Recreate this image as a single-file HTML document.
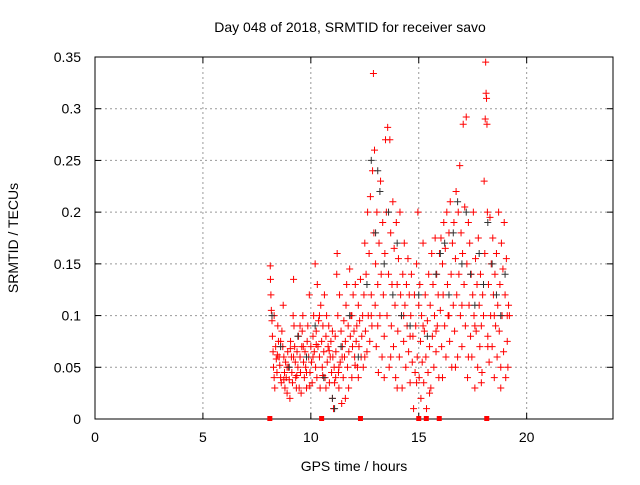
<!DOCTYPE html>
<html><head><meta charset="utf-8"><style>
body{margin:0;background:#fff;}
svg text{font-family:"Liberation Sans",sans-serif;font-size:14px;fill:#000;}
</style></head><body>
<svg id="chart" width="640" height="480" xmlns="http://www.w3.org/2000/svg">
<rect width="640" height="480" fill="#fff"/>
<g id="grid"></g><g id="axes"></g><g id="pts"></g>
<text x="350" y="32" text-anchor="middle">Day 048 of 2018, SRMTID for receiver savo</text>
<text x="354" y="471" text-anchor="middle">GPS time / hours</text>
<text transform="translate(18,238) rotate(-90)" text-anchor="middle">SRMTID / TECUs</text>
</svg>
<script>
const xTicks=[0,5,10,15,20];
const yTicks=[0,0.05,0.1,0.15,0.2,0.25,0.3,0.35];
const yLabels=["0","0.05","0.1","0.15","0.2","0.25","0.3","0.35"];
// [hour, value] pairs
const redSeg1=[[8.12,0.148],[8.13,0.135],[8.15,0.12],[8.17,0.105],[8.2,0.095],[8.22,0.08],[8.25,0.065],[8.27,0.05],[8.3,0.04],[8.33,0.03],[8.37,0.07],[8.4,0.058],[8.43,0.045],[8.47,0.09],[8.5,0.075],[8.53,0.06],[8.56,0.052],[8.6,0.04],[8.63,0.035],[8.66,0.085],[8.7,0.07],[8.72,0.11],[8.75,0.06],[8.78,0.045],[8.8,0.03],[8.83,0.055],[8.86,0.04],[8.9,0.025],[8.93,0.065],[8.96,0.05],[9.0,0.038],[9.03,0.02],[9.06,0.075],[9.1,0.06],[9.12,0.045],[9.15,0.035],[9.18,0.1],[9.2,0.135],[9.22,0.09],[9.25,0.07],[9.28,0.055],[9.3,0.04],[9.33,0.03],[9.36,0.065],[9.4,0.05],[9.43,0.08],[9.46,0.03],[9.5,0.06],[9.52,0.045],[9.55,0.025],[9.58,0.07],[9.6,0.085],[9.63,0.1],[9.66,0.055],[9.7,0.04],[9.73,0.065],[9.76,0.05],[9.8,0.03],[9.83,0.075],[9.86,0.09],[9.9,0.06],[9.93,0.12],[9.96,0.045],[10.0,0.07],[10.03,0.055],[10.06,0.035],[10.1,0.08],[10.13,0.1],[10.16,0.065],[10.2,0.15],[10.22,0.05],[10.25,0.085],[10.28,0.04],[10.3,0.13],[10.33,0.07],[10.36,0.095],[10.4,0.06],[10.43,0.03],[10.46,0.11],[10.5,0.075],[10.53,0.05],[10.56,0.09],[10.6,0.065],[10.63,0.12],[10.66,0.04],[10.7,0.08],[10.73,0.1],[10.76,0.055],[10.8,0.07],[10.83,0.09],[10.86,0.035],[10.9,0.06],[10.93,0.075],[10.96,0.045],[11.0,0.02],[11.02,0.06],[11.05,0.01],[11.08,0.05],[11.1,0.035],[11.13,0.08],[11.16,0.065],[11.2,0.14],[11.22,0.16],[11.25,0.1],[11.28,0.045],[11.3,0.03],[11.33,0.12],[11.36,0.055],[11.4,0.085],[11.43,0.015],[11.46,0.07],[11.5,0.04],[11.53,0.095],[11.56,0.06],[11.6,0.075],[11.63,0.11],[11.66,0.13],[11.7,0.05],[11.73,0.09],[11.76,0.065],[11.8,0.145],[11.83,0.08],[11.86,0.1],[11.9,0.04],[11.93,0.07],[11.96,0.12],[12.0,0.085],[12.03,0.06],[12.06,0.13],[12.1,0.075],[12.13,0.09],[12.16,0.05],[12.2,0.11],[12.23,0.07],[12.26,0.095],[12.3,0.135],[12.33,0.06],[12.36,0.08]];
const redSeg2=[[12.4,0.1],[12.43,0.05],[12.46,0.12],[12.5,0.17],[12.53,0.085],[12.56,0.14],[12.6,0.065],[12.63,0.2],[12.66,0.1],[12.7,0.16],[12.73,0.075],[12.76,0.215],[12.8,0.12],[12.83,0.09],[12.86,0.24],[12.9,0.334],[12.92,0.18],[12.95,0.26],[12.98,0.11],[13.0,0.15],[13.03,0.07],[13.06,0.2],[13.1,0.13],[13.13,0.045],[13.16,0.17],[13.2,0.1],[13.23,0.23],[13.26,0.14],[13.3,0.06],[13.33,0.19],[13.36,0.12],[13.4,0.08],[13.43,0.16],[13.46,0.27],[13.5,0.2],[13.53,0.1],[13.56,0.282],[13.6,0.14],[13.63,0.05],[13.66,0.27],[13.7,0.18],[13.73,0.09],[13.76,0.13],[13.8,0.21],[13.83,0.07],[13.86,0.165],[13.9,0.11],[13.93,0.04],[13.96,0.19],[14.0,0.13],[14.03,0.085],[14.06,0.155],[14.1,0.06],[14.13,0.2],[14.16,0.12],[14.2,0.1],[14.23,0.03],[14.26,0.14],[14.3,0.075],[14.33,0.17],[14.36,0.11],[14.4,0.05],[14.43,0.13],[14.46,0.09],[14.5,0.155],[14.53,0.065],[14.56,0.12],[14.6,0.035],[14.63,0.1],[14.66,0.14],[14.7,0.055],[14.73,0.08],[14.76,0.01],[14.8,0.12],[14.83,0.045],[14.86,0.09],[14.9,0.15],[14.93,0.06],[14.96,0.2],[15.0,0.11],[15.02,0.04],[15.05,0.13],[15.08,0.075],[15.1,0.02],[15.13,0.1],[15.16,0.055],[15.2,0.17],[15.23,0.035],[15.26,0.085],[15.3,0.12],[15.33,0.06],[15.36,0.01],[15.4,0.095],[15.43,0.045],[15.46,0.14],[15.5,0.07],[15.53,0.11],[15.56,0.03],[15.6,0.16],[15.63,0.08],[15.66,0.13],[15.7,0.05],[15.73,0.1],[15.76,0.175],[15.8,0.065],[15.83,0.14],[15.86,0.09],[15.9,0.12],[15.93,0.04],[15.96,0.16],[16.0,0.105],[16.03,0.175],[16.06,0.07],[16.1,0.15],[16.13,0.12],[16.16,0.19],[16.2,0.09],[16.23,0.165],[16.26,0.06],[16.3,0.2],[16.33,0.13],[16.36,0.1],[16.4,0.18],[16.43,0.075],[16.46,0.21],[16.5,0.14],[16.53,0.05],[16.56,0.17],[16.6,0.11],[16.63,0.19],[16.66,0.085],[16.7,0.155],[16.73,0.22]];
const redSeg3=[[16.76,0.12],[16.8,0.06],[16.83,0.2],[16.86,0.14],[16.9,0.245],[16.93,0.1],[16.96,0.18],[17.0,0.07],[17.03,0.16],[17.06,0.285],[17.1,0.13],[17.13,0.205],[17.16,0.09],[17.2,0.292],[17.23,0.15],[17.26,0.04],[17.3,0.19],[17.33,0.11],[17.36,0.17],[17.4,0.08],[17.43,0.14],[17.46,0.06],[17.5,0.12],[17.53,0.2],[17.56,0.1],[17.6,0.03],[17.63,0.155],[17.66,0.085],[17.7,0.13],[17.73,0.05],[17.76,0.175],[17.8,0.11],[17.83,0.07],[17.86,0.14],[17.9,0.09],[17.93,0.045],[17.96,0.12],[18.0,0.1],[18.03,0.23],[18.06,0.16],[18.08,0.29],[18.1,0.345],[18.12,0.315],[18.14,0.31],[18.16,0.285],[18.18,0.2],[18.2,0.08],[18.23,0.13],[18.26,0.055],[18.3,0.195],[18.33,0.1],[18.36,0.15],[18.4,0.07],[18.43,0.175],[18.46,0.12],[18.5,0.04],[18.53,0.14],[18.56,0.09],[18.6,0.16],[18.63,0.06],[18.66,0.11],[18.7,0.2],[18.73,0.085],[18.76,0.13],[18.8,0.05],[18.83,0.17],[18.86,0.1],[18.9,0.145],[18.93,0.065],[18.96,0.19],[19.0,0.12],[19.03,0.04],[19.06,0.155],[19.1,0.1],[19.13,0.05],[19.16,0.11],[19.2,0.1]];
const redSeg4=[[8.3,0.1],[8.6,0.075],[8.9,0.05],[9.2,0.06],[9.5,0.09],[9.8,0.045],[10.1,0.06],[10.4,0.1],[10.7,0.03],[11.0,0.085],[11.3,0.05],[11.6,0.02],[11.9,0.1],[12.2,0.04],[12.5,0.06],[12.8,0.1],[13.1,0.09],[13.4,0.04],[13.7,0.06],[14.0,0.03],[14.3,0.1],[14.6,0.08],[14.9,0.035],[15.2,0.09],[15.5,0.025],[15.8,0.085],[16.1,0.04],[16.4,0.1],[16.7,0.05],[17.0,0.11],[17.3,0.06],[17.6,0.09],[17.9,0.035],[18.2,0.07],[18.5,0.1],[18.8,0.03],[19.1,0.075],[8.45,0.062],[8.75,0.038],[9.05,0.068],[9.35,0.042],[9.65,0.07],[9.95,0.032],[10.25,0.072],[10.55,0.042],[10.85,0.066],[11.15,0.04],[11.45,0.06],[11.75,0.03],[12.05,0.052]];
const greyPts=[[8.2,0.1],[8.6,0.07],[9.0,0.05],[9.4,0.08],[9.8,0.06],[10.2,0.09],[10.6,0.04],[11.0,0.02],[11.4,0.07],[11.8,0.1],[12.2,0.06],[12.6,0.13],[12.8,0.25],[13.0,0.18],[13.2,0.22],[13.4,0.15],[13.6,0.2],[13.8,0.12],[14.0,0.17],[14.2,0.1],[14.6,0.09],[15.0,0.12],[15.4,0.08],[15.8,0.14],[16.2,0.17],[16.4,0.12],[16.6,0.18],[16.8,0.21],[17.0,0.15],[17.2,0.2],[17.4,0.14],[17.6,0.11],[17.8,0.16],[18.0,0.13],[18.2,0.19],[18.4,0.15],[18.6,0.12],[18.8,0.1],[19.0,0.14],[11.1,0.01],[13.1,0.24],[16.0,0.16]];
const flagT=[8.1,10.5,12.3,15.0,15.35,15.95,18.15];

const X0=95,X1=613,Y0=419,Y1=57;
const sx=t=>X0+(t/24)*(X1-X0);
const sy=v=>Y0-(v/0.35)*(Y0-Y1);
const NS="http://www.w3.org/2000/svg";
function mk(tag,attrs,parent){const e=document.createElementNS(NS,tag);for(const k in attrs)e.setAttribute(k,attrs[k]);parent.appendChild(e);return e;}
const grid=document.getElementById('grid'),axes=document.getElementById('axes'),pts=document.getElementById('pts');
xTicks.forEach(t=>{const x=sx(t);
 if(t>0){const l=mk('line',{x1:x,x2:x,y1:Y1,y2:Y0,stroke:'#999','stroke-dasharray':'2,3','stroke-width':1},grid);
 
 }
 mk('line',{x1:x,x2:x,y1:Y0,y2:Y0-6,stroke:'#000'},axes);mk('line',{x1:x,x2:x,y1:Y1,y2:Y1+6,stroke:'#000'},axes);
 const tx=mk('text',{x:x,y:Y0+23,'text-anchor':'middle'},axes);tx.textContent=t;
 
 });
yTicks.forEach((v,i)=>{const y=sy(v);
 if(v>0&&v<0.35){const l=mk('line',{x1:X0,x2:X1,y1:y,y2:y,stroke:'#999','stroke-dasharray':'2,3','stroke-width':1},grid);
 
 }
 mk('line',{x1:X0,x2:X0+6,y1:y,y2:y,stroke:'#000'},axes);mk('line',{x1:X1,x2:X1-6,y1:y,y2:y,stroke:'#000'},axes);
 const tx=mk('text',{x:X0-14,y:y+5,'text-anchor':'end'},axes);tx.textContent=yLabels[i];
 
 });
const fr=mk('rect',{x:X0,y:Y1,width:X1-X0,height:Y0-Y1,fill:'none',stroke:'#000'},axes);


function plus(t,v,c,name){const x=sx(t),y=sy(v);
 const p=mk('path',{d:`M${x-3.5},${y}h7M${x},${y-3.5}v7`,stroke:c,'stroke-width':1},pts);
 
 }
[redSeg1,redSeg2,redSeg3,redSeg4].forEach(seg=>seg.forEach(p=>plus(p[0],p[1],'#f00','red-point')));
greyPts.forEach(p=>plus(p[0],p[1],'#333','grey-point'));
flagT.forEach(t=>{const r=mk('rect',{x:sx(t)-2.5,y:Y0-3,width:5,height:5,fill:'#f00'},pts);
 
 });
</script>
</body></html>
